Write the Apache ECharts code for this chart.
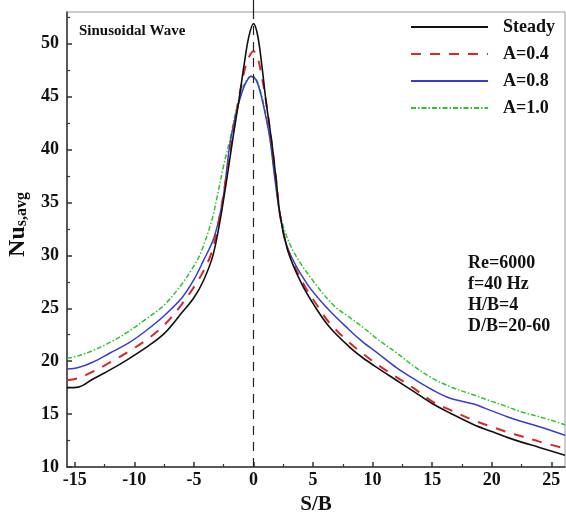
<!DOCTYPE html>
<html><head><meta charset="utf-8">
<script src="https://cdn.jsdelivr.net/npm/echarts@6/dist/echarts.min.js"></script>
<style>html,body{margin:0;padding:0;background:#fff}#c{width:566px;height:514px}</style>
</head><body><div id="c"></div>
<script>
const xTicks = [-15, -10, -5, 0, 5, 10, 15, 20, 25];
const xMinorTicks = [-12.5, -7.5, -2.5, 2.5, 7.5, 12.5, 17.5, 22.5];
const yTicks = [10, 15, 20, 25, 30, 35, 40, 45, 50];
const yMinorTicks = [12.5, 17.5, 22.5, 27.5, 32.5, 37.5, 42.5, 47.5, 52.5];
const seriesNames = ['Steady', 'A=0.4', 'A=0.8', 'A=1.0'];

const steadyX = [-15.65, -14.7, -13.5, -12, -10.5, -9, -7.5, -6, -5, -4.2, -3.4, -2.8, -2.2, -1.75, -1.2, -0.8, -0.4, 0, 0.35, 0.7, 1.05, 1.5, 1.9, 2.25, 2.9, 4.05, 5.2, 6.4, 8, 9.2, 10.5, 12, 13.5, 15, 16.5, 18.5, 20, 21.3, 22.5, 24, 26.15];
const steadyY = [17.5, 17.55, 18.3, 19.2, 20.2, 21.3, 22.6, 24.6, 26.0, 27.6, 30.0, 33.3, 37.5, 40.9, 44.8, 47.9, 50.6, 51.9, 50.8, 48.0, 44.6, 41.0, 37.2, 33.7, 30.4, 27.3, 25.1, 23.2, 21.4, 20.3, 19.3, 18.2, 17.1, 16.0, 15.1, 14.0, 13.35, 12.8, 12.35, 11.85, 11.1];

const a04X = [-15.65, -14.7, -13.5, -12, -10.5, -9, -7.5, -6, -5, -4.3, -3.5, -2.9, -2.3, -1.8, -1.2, -0.75, -0.35, 0, 0.35, 0.7, 1.05, 1.5, 1.9, 2.25, 2.9, 4.2, 5.45, 6.4, 8, 9.2, 10.5, 12, 13.5, 15, 16.5, 18.5, 20, 21.3, 22.5, 24, 26.15];
const a04Y = [18.2, 18.4, 19.0, 19.9, 20.9, 22.0, 23.4, 25.4, 27.0, 28.3, 30.3, 33.3, 37.3, 40.9, 45.0, 47.5, 48.8, 49.3, 48.7, 46.9, 44.6, 40.9, 37.2, 33.7, 30.5, 27.3, 25.1, 23.6, 21.8, 20.7, 19.6, 18.5, 17.4, 16.2, 15.4, 14.4, 13.8, 13.3, 12.9, 12.4, 11.75];

const a08X = [-15.65, -14.7, -13.5, -12, -10.5, -9, -7.5, -6, -5, -4.2, -3.4, -2.9, -2.5, -2.0, -1.5, -1.0, -0.6, -0.2, 0.2, 0.6, 1.0, 1.4, 1.8, 2.25, 2.9, 4.5, 6.2, 8, 9.2, 10.5, 12, 13.5, 15, 16.5, 18.5, 20, 21.3, 22.5, 24, 26.15];
const a08Y = [19.25, 19.4, 19.9, 20.8, 21.7, 22.9, 24.3, 26.0, 27.7, 29.5, 31.4, 33.4, 35.8, 40.3, 43.2, 45.3, 46.4, 46.9, 46.6, 45.3, 43.3, 40.9, 37.2, 33.7, 30.6, 27.3, 25.0, 23.0, 21.8, 20.7, 19.4, 18.3, 17.3, 16.5, 15.95, 15.3, 14.75, 14.3, 13.8, 13.0];

const a10X = [-15.65, -14.7, -13.5, -12, -10.5, -9, -7.5, -6, -5, -4.4, -3.5, -3.0, -2.5, -2.0, -1.5, -1.0, -0.6, -0.2, 0.2, 0.6, 1.0, 1.4, 1.8, 2.25, 3.3, 5.2, 6.8, 8, 9.2, 10.5, 12, 13.5, 15, 16.5, 18.5, 20, 21.3, 22.5, 24, 26.15];
const a10Y = [20.25, 20.5, 21.0, 21.8, 22.8, 24.0, 25.3, 27.3, 29.0, 30.3, 33.3, 35.8, 38.5, 40.8, 43.5, 45.6, 46.5, 46.95, 46.7, 45.5, 43.5, 41.0, 37.5, 33.8, 30.5, 27.3, 25.2, 24.2, 23.2, 22.0, 20.8, 19.5, 18.4, 17.6, 16.8, 16.2, 15.7, 15.2, 14.75, 14.0];

const FONT = '"Liberation Serif", "Times New Roman", serif';
const pair = (xs, ys) => xs.map((x, i) => [x, ys[i]]);
const X_MIN = -15.65, X_MAX = 26.15, Y_MIN = 10, Y_MAX = 53;

const chart = echarts.init(document.getElementById('c'), null, {renderer: 'canvas'});

const lblStyle = {fontFamily: FONT, fontWeight: 'bold', fontSize: 18, color: '#111'};

const option = {
  animation: false,
  backgroundColor: '#fff',
  grid: {left: 67, right: 1, top: 12, bottom: 47, show: true, borderColor: '#9a9a9a', borderWidth: 1, containLabel: false, outerBoundsMode: 'none'},
  legend: {
    orient: 'vertical', left: 410, top: 18, padding: 0,
    itemWidth: 77, itemHeight: 18, itemGap: 9,
    data: seriesNames,
    itemStyle: {opacity: 0},
    textStyle: {fontFamily: FONT, fontWeight: 'bold', fontSize: 18, color: '#111', padding: [0, 0, 0, 10], lineHeight: 18}
  },
  xAxis: [
    {
      type: 'value', min: X_MIN, max: X_MAX, position: 'bottom',
      axisLine: {show: true, onZero: false, lineStyle: {color: '#333', width: 1.5}},
      axisTick: {show: true, inside: true, length: 5, customValues: xTicks, lineStyle: {color: '#333', width: 1.5}},
      axisLabel: Object.assign({customValues: xTicks, margin: 4}, lblStyle),
      splitLine: {show: false},
      name: 'S/B', nameLocation: 'middle', nameGap: 26,
      nameTextStyle: {fontFamily: FONT, fontWeight: 'bold', fontSize: 21, color: '#111'}
    },
    {
      type: 'value', min: X_MIN, max: X_MAX, position: 'bottom',
      axisLine: {show: false, onZero: false},
      axisTick: {show: true, inside: true, length: 3, customValues: xMinorTicks, lineStyle: {color: '#333', width: 1.2}},
      axisLabel: {show: false}, splitLine: {show: false}
    },
    {
      type: 'value', min: X_MIN, max: X_MAX, position: 'top',
      axisLine: {show: false, onZero: false},
      axisTick: {show: true, inside: false, length: 12, customValues: [0], lineStyle: {color: '#222', width: 1.2}},
      axisLabel: {show: false}, splitLine: {show: false}
    }
  ],
  yAxis: [
    {
      type: 'value', min: Y_MIN, max: Y_MAX, position: 'left',
      axisLine: {show: true, onZero: false, lineStyle: {color: '#333', width: 1.5}},
      axisTick: {show: true, inside: true, length: 5, customValues: yTicks, lineStyle: {color: '#333', width: 1.5}},
      axisLabel: Object.assign({customValues: yTicks, margin: 8}, lblStyle),
      splitLine: {show: false},
      name: '{a|Nu}{b|s,avg}', nameLocation: 'middle', nameRotate: 90, nameGap: 28,
      nameTextStyle: {
        padding: [0, 0, 0, 30],
        rich: {
          a: {fontFamily: FONT, fontWeight: 'bold', fontSize: 24, lineHeight: 24, color: '#111', verticalAlign: 'middle'},
          b: {fontFamily: FONT, fontWeight: 'bold', fontSize: 16, lineHeight: 16, color: '#111', verticalAlign: 'bottom', padding: [13, 0, 0, 0]}
        }
      }
    },
    {
      type: 'value', min: Y_MIN, max: Y_MAX, position: 'left',
      axisLine: {show: false, onZero: false},
      axisTick: {show: true, inside: true, length: 3, customValues: yMinorTicks, lineStyle: {color: '#333', width: 1.2}},
      axisLabel: {show: false}, splitLine: {show: false}
    }
  ],
  graphic: [
    {type: 'text', left: 79, top: 24, silent: true, style: {text: 'Sinusoidal Wave', font: 'bold 15px ' + FONT, fill: '#111'}},
    {type: 'text', left: 468, top: 253, silent: true, style: {text: 'Re=6000\nf=40 Hz\nH/B=4\nD/B=20-60', font: 'bold 18px ' + FONT, lineHeight: 21, fill: '#111'}}
  ],
  series: [
    {
      name: seriesNames[0], type: 'line', data: pair(steadyX, steadyY), symbol: 'none', smooth: 0.35,
      lineStyle: {color: '#111', width: 1.6, type: 'solid'}, itemStyle: {color: '#111'}, z: 5,
      markLine: {
        silent: true, symbol: ['none', 'none'], label: {show: false},
        lineStyle: {color: '#222', width: 1.2, type: [9, 7]},
        data: [{xAxis: 0}]
      }
    },
    {
      name: seriesNames[1], type: 'line', data: pair(a04X, a04Y), symbol: 'none', smooth: 0.35,
      lineStyle: {color: '#d42a2a', width: 2, type: [10, 9]}, itemStyle: {color: '#d42a2a'}, z: 4
    },
    {
      name: seriesNames[2], type: 'line', data: pair(a08X, a08Y), symbol: 'none', smooth: 0.35,
      lineStyle: {color: '#3b3bd1', width: 1.5, type: 'solid'}, itemStyle: {color: '#3b3bd1'}, z: 3
    },
    {
      name: seriesNames[3], type: 'line', data: pair(a10X, a10Y), symbol: 'none', smooth: 0.35,
      lineStyle: {color: '#2dc42d', width: 1.5, type: [5, 2, 1.5, 2]}, itemStyle: {color: '#2dc42d'}, z: 2
    }
  ]
};
chart.setOption(option);
</script>
</body></html>
